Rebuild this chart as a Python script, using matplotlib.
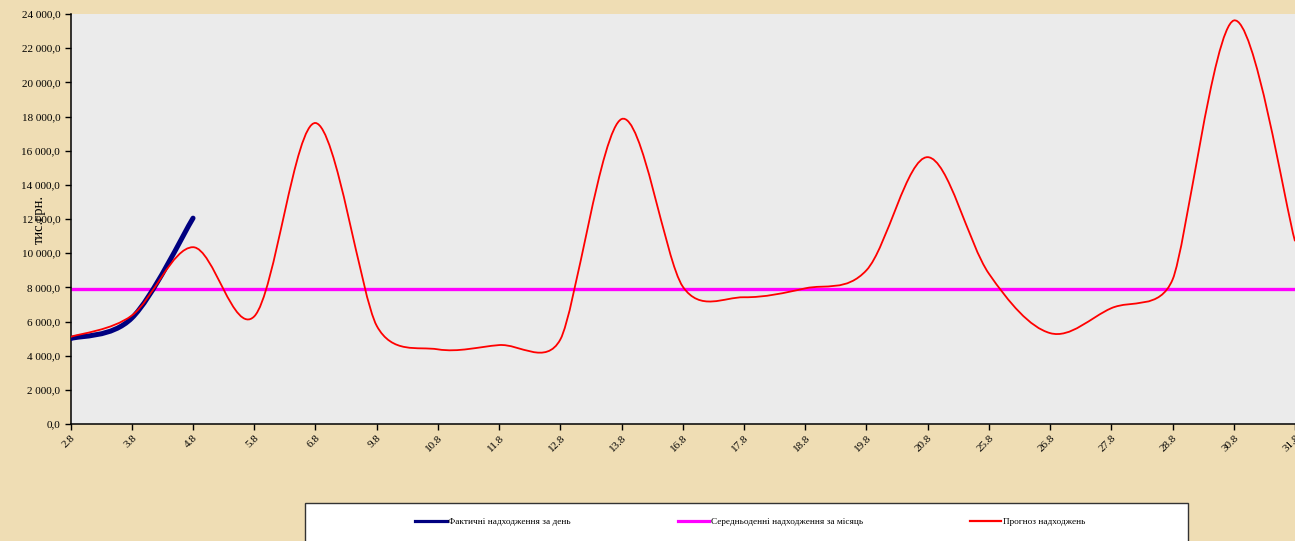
import matplotlib.pyplot as plt
import numpy
from matplotlib.path import Path
from matplotlib.patches import PathPatch, Rectangle
from matplotlib.lines import Line2D
from matplotlib.ticker import FuncFormatter

days = ['2.8', '3.8', '4.8', '5.8', '6.8', '9.8', '10.8', '11.8', '12.8', '13.8',
        '16.8', '17.8', '18.8', '19.8', '20.8', '25.8', '26.8', '27.8', '28.8',
        '30.8', '31.8']
# фактичні надходження (тільки перші три дні)
fact = [5000, 6200, 12050]
# прогноз
forecast = [5100, 6350, 10350, 6300, 17620, 5750, 4370, 4620, 4950, 17850,
            8040, 7420, 7940, 9000, 15620, 8800, 5320, 6780, 8450, 23620, 10700]
# середньоденні за місяць
avg = [7880] * len(days)

plt.rcParams['font.family'] = ['Liberation Serif', 'DejaVu Serif']


def smooth_path(xs, ys, sx, sy):
    # безьє як у Excel: дотична паралельна сусідам, довжина обмежена
    p = numpy.column_stack([numpy.asarray(xs, float) * sx, numpy.asarray(ys, float) * sy])
    n = len(p)
    t = numpy.zeros_like(p)
    for i in range(n):
        a = p[max(i - 1, 0)]
        b = p[min(i + 1, n - 1)]
        d02 = numpy.hypot(*(b - a))
        if d02 == 0:
            continue
        f = 1.0 / 6
        d01 = numpy.hypot(*(p[i] - a)) if i > 0 else numpy.inf
        d12 = numpy.hypot(*(b - p[i])) if i < n - 1 else numpy.inf
        m = min(d01, d12)
        if d02 * f > m / 2:
            f = m / (2 * d02)
        t[i] = f * (b - a)
    verts = [p[0]]
    codes = [Path.MOVETO]
    for i in range(n - 1):
        verts += [p[i] + t[i], p[i + 1] - t[i + 1], p[i + 1]]
        codes += [Path.CURVE4] * 3
    verts = numpy.array(verts)
    verts[:, 0] /= sx
    verts[:, 1] /= sy
    return Path(verts, codes)


fig = plt.figure(figsize=(12.95, 5.41), dpi=100)
fig.patch.set_facecolor('#efddb4')
ax = fig.add_axes([70.6 / 1295, 1 - 424 / 541, 1 - 70.6 / 1295, 410 / 541])
ax.set_facecolor('#ebebeb')

x = numpy.arange(len(days))
sx, sy = 61.4, 410 / 24000.0

ax.plot(x, avg, color='#ff00ff', lw=2.4, solid_capstyle='butt', zorder=2)
ax.add_patch(PathPatch(smooth_path(x[:len(fact)], fact, sx, sy), fill=False,
                       edgecolor='#000080', lw=3.6, capstyle='round', zorder=3))
ax.add_patch(PathPatch(smooth_path(x, forecast, sx, sy), fill=False,
                       edgecolor='#ff0000', lw=1.3, zorder=4))

ax.set_xlim(0, (1295 - 70.6) / 61.4)
ax.set_ylim(0, 24000)
ax.set_xticks(x)
ax.set_xticklabels(days, rotation=45, ha='right', rotation_mode='anchor', fontsize=8)
ax.set_yticks(numpy.arange(0, 24001, 2000))
ax.yaxis.set_major_formatter(FuncFormatter(
    lambda v, pos: '{:,.1f}'.format(v).replace(',', ' ').replace('.', ',')))
ax.tick_params(axis='y', labelsize=8, length=4, width=1, direction='out')
ax.tick_params(axis='x', length=4, width=1, direction='out', pad=3)
for s in ['top', 'right']:
    ax.spines[s].set_visible(False)
ax.spines['left'].set_linewidth(1.1)
ax.spines['bottom'].set_linewidth(1.1)
ax.set_ylabel('тис.грн.', fontsize=10.5)
ax.yaxis.set_label_coords(-0.02, 0.5)

# легенда
fig.patches.append(Rectangle((305 / 1295, -0.02), 883 / 1295, 38 / 541 + 0.02,
                             transform=fig.transFigure, facecolor='white',
                             edgecolor='#333333', lw=1.0, zorder=1))
handles = [Line2D([], [], color='#000080', lw=2.3),
           Line2D([], [], color='#ff00ff', lw=2.3),
           Line2D([], [], color='#ff0000', lw=1.6)]
names = ['Фактичні надходження за день', 'Середньоденні надходження за місяць',
         'Прогноз надходжень']
leg = fig.legend(handles, names, loc='center', bbox_to_anchor=(750 / 1295, 1 - 522 / 541),
                 ncol=3, frameon=False, fontsize=6.7, handlelength=3.4,
                 handletextpad=0.15, columnspacing=11.5)
leg.set_zorder(2)

plt.savefig('out.png', dpi=100, facecolor=fig.get_facecolor())
